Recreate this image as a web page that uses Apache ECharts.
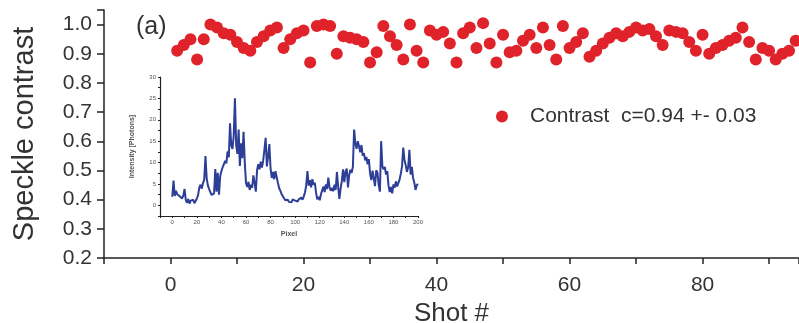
<!DOCTYPE html>
<html>
<head>
<meta charset="utf-8">
<script src="https://cdn.jsdelivr.net/npm/echarts@6/dist/echarts.min.js"></script>
<style>
  html, body { margin: 0; padding: 0; background: #fff; }
  #chart { width: 799px; height: 323px; }
</style>
</head>
<body>
<div id="chart"></div>
<script>
// main panel: speckle contrast per shot
const shots = [
  1, 2, 3, 4, 5, 6, 7, 8, 9, 10, 11, 12, 13, 14, 15, 16, 17, 18, 19, 20,
  21, 22, 23, 24, 25, 26, 27, 28, 29, 30, 31, 32, 33, 34, 35, 36, 37, 38, 39, 40,
  41, 42, 43, 44, 45, 46, 47, 48, 49, 50, 51, 52, 53, 54, 55, 56, 57, 58, 59, 60,
  61, 62, 63, 64, 65, 66, 67, 68, 69, 70, 71, 72, 73, 74, 75, 76, 77, 78, 79, 80,
  81, 82, 83, 84, 85, 86, 87, 88, 89, 90, 91, 92, 93, 94
];
const contrast = [
  0.91, 0.93, 0.95, 0.88, 0.95, 1.00, 0.99, 0.97, 0.965, 0.94,
  0.92, 0.91, 0.94, 0.96, 0.98, 0.99, 0.92, 0.95, 0.97, 0.98,
  0.87, 0.995, 1.00, 0.995, 0.90, 0.96, 0.955, 0.95, 0.94, 0.87,
  0.905, 0.995, 0.96, 0.93, 0.88, 1.00, 0.91, 0.87, 0.98, 0.965,
  0.975, 0.935, 0.87, 0.97, 0.99, 0.92, 1.005, 0.935, 0.87, 0.965,
  0.905, 0.91, 0.945, 0.965, 0.92, 0.99, 0.93, 0.88, 0.995, 0.92,
  0.94, 0.97, 0.89, 0.91, 0.935, 0.955, 0.97, 0.96, 0.975, 0.99,
  0.98, 0.985, 0.96, 0.93, 0.98, 0.975, 0.97, 0.94, 0.91, 0.965,
  0.90, 0.92, 0.93, 0.945, 0.955, 0.99, 0.94, 0.88, 0.92, 0.91,
  0.88, 0.90, 0.91, 0.945
];
const xLabels = [0, 20, 40, 60, 80];
const legendName = 'Contrast  c=0.94 +- 0.03';

// inset: intensity profile along pixels 0..200
const pixels = [];
for (let p = 0; p <= 200; p++) pixels.push(p);
const intensity = [
  2.0, 5.8, 2.2, 3.4, 2.6, 2.9, 2.1, 2.5, 1.6, 2.3,
  3.8, 1.2, 0.6, 1.5, 0.4, 1.1, 0.7, 1.3, 0.5, 1.0,
  1.6, 2.4, 4.2, 4.8, 3.9, 5.2, 6.0, 11.5, 6.3, 4.6,
  3.8, 3.1, 2.4, 2.0, 2.8, 8.5, 3.2, 7.6, 2.5, 6.8,
  8.0, 8.9, 9.6, 10.4, 9.8, 12.6, 11.2, 19.2, 14.0, 13.2,
  16.3, 25.0, 14.1, 12.0, 17.7, 9.2, 14.5, 11.0, 17.2, 10.1,
  5.2, 4.3, 5.5, 3.6, 4.8, 4.1, 7.0, 5.3, 3.2, 8.2,
  9.6, 8.4, 10.2, 8.8, 10.5, 13.0, 15.8, 9.1, 11.4, 14.3,
  8.6, 6.4, 7.8, 6.1, 8.0, 6.6, 5.2, 4.0, 3.4, 2.6,
  2.1, 1.8, 1.2, 0.9, 1.3, 0.8, 1.1, 0.7, 1.4, 1.0,
  1.1, 1.5, 0.9, 1.4, 1.2, 1.8, 1.3, 2.1, 3.0, 4.6,
  8.0, 4.6, 5.9, 4.2, 6.1, 4.8, 5.3, 3.0, 1.4, 2.0,
  1.2, 2.6, 3.5, 4.4, 3.1, 4.9, 3.8, 6.5, 4.2, 3.4,
  4.1, 3.3, 4.8, 3.6, 7.8, 4.4, 1.5, 3.9, 5.7, 8.4,
  5.4, 7.8, 8.6, 4.2, 7.1, 8.3, 7.6, 9.0, 17.7, 14.6,
  13.2, 15.0, 13.8, 12.4, 14.1, 11.6, 12.2, 10.5, 11.3, 9.6,
  10.8, 7.4, 5.9, 8.1, 6.3, 4.5, 8.2, 7.6, 4.8, 3.2,
  15.0, 9.1, 8.4, 9.0, 7.2, 8.0, 4.6, 3.1, 4.3, 2.8,
  4.9, 4.1, 5.6, 4.4, 5.2, 6.0, 7.4, 9.1, 13.5, 10.6,
  9.4, 7.8, 8.9, 13.0, 7.2, 9.0, 6.4, 5.3, 3.6, 4.7,
  5.0
];
const insetXLabels = [0, 20, 40, 60, 80, 100, 120, 140, 160, 180, 200];
const insetYLabels = [0, 5, 10, 15, 20, 25, 30];

const font = '"Liberation Sans", Arial, sans-serif';
const axisColor = '#222';
const textColor = '#333';

const chart = echarts.init(document.getElementById('chart'));

chart.setOption({
    animation: false,
    backgroundColor: '#fff',
    textStyle: { fontFamily: font },
    title: {
        text: '(a)',
        left: 131,
        top: 10,
        textStyle: { fontSize: 25, fontWeight: 'normal', color: textColor, fontFamily: font }
    },
    legend: {
        left: 491,
        top: 101,
        data: [legendName],
        itemWidth: 12,
        itemHeight: 12,
        textStyle: { fontSize: 21, color: textColor, fontFamily: font, padding: [0, 0, 0, 17] }
    },
    grid: [
        { left: 104, right: 0, top: 10, bottom: 65, outerBoundsMode: 'none', containLabel: false },
        { left: 160, right: 381, top: 77, bottom: 107, z: 5, outerBoundsMode: 'none', containLabel: false }
    ],
    xAxis: [
        {
            gridIndex: 0,
            type: 'value',
            min: -10,
            max: 94.5,
            interval: 10,
            name: 'Shot #',
            nameLocation: 'middle',
            nameGap: 27,
            nameTextStyle: { fontSize: 26, color: textColor },
            axisLine: { onZero: false, lineStyle: { color: axisColor, width: 1.5 } },
            axisTick: { length: 6, lineStyle: { color: axisColor, width: 1.5 } },
            axisLabel: {
                fontSize: 21, color: textColor, margin: 17,
                formatter: v => xLabels.includes(v) ? String(v) : ''
            },
            splitLine: { show: false }
        },
        {
            gridIndex: 1,
            type: 'value',
            min: -10,
            max: 200,
            interval: 10,
            name: 'Pixel',
            nameLocation: 'middle',
            nameGap: 15,
            nameTextStyle: { fontSize: 7, color: '#555', fontWeight: 'bold' },
            axisLine: { onZero: false, lineStyle: { color: axisColor, width: 1.2 } },
            axisTick: { length: 2, lineStyle: { color: axisColor } },
            axisLabel: {
                fontSize: 6, color: '#555', margin: 3,
                formatter: v => insetXLabels.includes(v) ? String(v) : ''
            },
            splitLine: { show: false }
        }
    ],
    yAxis: [
        {
            gridIndex: 0,
            type: 'value',
            min: 0.2,
            max: 1.05,
            interval: 0.1,
            name: 'Speckle contrast',
            nameLocation: 'middle',
            nameGap: 65,
            nameTextStyle: { fontSize: 29, color: textColor },
            axisLine: { show: true, onZero: false, lineStyle: { color: axisColor, width: 1.5 } },
            axisTick: { show: true, length: 7, lineStyle: { color: axisColor, width: 1.5 } },
            axisLabel: {
                fontSize: 21, color: textColor, margin: 12,
                formatter: v => v <= 1.001 ? v.toFixed(1) : ''
            },
            splitLine: { show: false }
        },
        {
            gridIndex: 1,
            type: 'value',
            min: -2.5,
            max: 30,
            interval: 2.5,
            name: 'Intensity [Photons]',
            nameLocation: 'middle',
            nameGap: 24,
            nameTextStyle: { fontSize: 7, color: '#555', fontWeight: 'bold' },
            axisLine: { show: true, onZero: false, lineStyle: { color: axisColor, width: 1.2 } },
            axisTick: { show: true, length: 2, lineStyle: { color: axisColor } },
            axisLabel: {
                fontSize: 6, color: '#555', margin: 4,
                formatter: v => insetYLabels.includes(v) ? String(v) : ''
            },
            splitLine: { show: false }
        }
    ],
    series: [
        {
            name: legendName,
            type: 'scatter',
            xAxisIndex: 0,
            yAxisIndex: 0,
            symbol: 'circle',
            symbolSize: 12,
            itemStyle: { color: '#e0222a', opacity: 1 },
            data: shots.map((s, i) => [s, contrast[i]])
        },
        {
            name: 'Intensity',
            type: 'line',
            xAxisIndex: 1,
            yAxisIndex: 1,
            showSymbol: false,
            lineStyle: { color: '#2c3e96', width: 2 },
            data: pixels.map((p, i) => [p, intensity[i]])
        }
    ]
});
</script>
</body>
</html>
